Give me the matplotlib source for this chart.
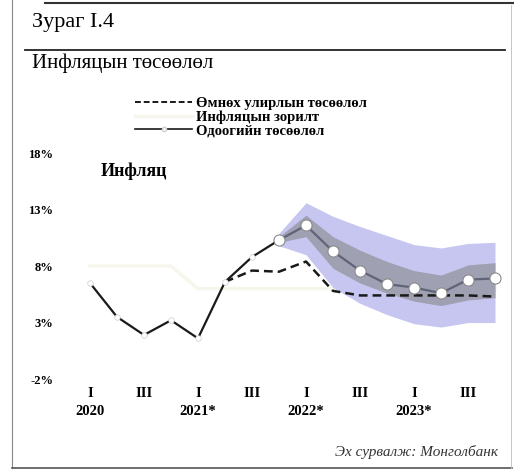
import matplotlib
matplotlib.use('Agg')
import matplotlib.pyplot as plt
from matplotlib.lines import Line2D

plt.rcParams['font.family'] = ['Liberation Serif', 'DejaVu Serif']

# quarterly inflation, 2020 Q1 .. 2023 Q4 (%)
actual = [6.5, 3.5, 1.9, 3.2, 1.6, 6.6, 8.8, 10.3, 11.6, 9.3, 7.6, 6.4, 6.1, 5.6, 6.8, 6.9]
# previous quarter's projection, from 2021 Q2
prev_start = 5
prev_fc = [6.6, 7.6, 7.5, 8.4, 5.8, 5.4, 5.4, 5.4, 5.4, 5.4, 5.3]
# inflation target
target = [8, 8, 8, 8, 6, 6, 6, 6, 6, 6, 6, 6, 6, 6, 6, 6]
# projection ranges, from 2021 Q4
band_start = 7
outer_hi = [10.9, 13.6, 12.4, 11.5, 10.7, 9.9, 9.6, 10.0, 10.1]
inner_hi = [10.6, 12.5, 10.6, 9.4, 8.4, 7.6, 7.2, 8.1, 8.3]
inner_lo = [10.1, 10.6, 7.8, 6.5, 5.6, 4.9, 4.5, 5.0, 5.2]
outer_lo = [9.8, 9.0, 6.1, 4.7, 3.7, 2.9, 2.6, 3.0, 3.0]

tick_pos = [0, 2, 4, 6, 8, 10, 12, 14]
tick_labels = ['I\n2020', 'III', 'I\n2021*', 'III', 'I\n2022*', 'III', 'I\n2023*', 'III']
y_ticks = [-2, 3, 8, 13, 18]
y_labels = ['-2%', '3%', '8%', '13%', '18%']

W, H = 514, 473
fig = plt.figure(figsize=(W / 100, H / 100), dpi=100)
fig.patch.set_facecolor('white')

# axes placed in pixel terms
left, right, top, bottom = 70, 505, 150, 383
ax = fig.add_axes([left / W, 1 - bottom / H, (right - left) / W, (bottom - top) / H])
ax.set_xlim(-0.74, 15.37)
ax.set_ylim(-2.35, 18.27)

x = list(range(len(actual)))
xb = x[band_start:]
ax.fill_between(xb, outer_lo, outer_hi, color='#c6c6f0', lw=0, zorder=1)
ax.fill_between(xb, inner_lo, inner_hi, color='#9fa0b1', lw=0, zorder=2)

ax.plot(x, target, color='#f7f6ec', lw=2.5, zorder=0.5)

xp = x[prev_start:prev_start + len(prev_fc)]
ax.plot(xp, prev_fc, color='#1a1a1a', lw=1.8, ls=(0, (3.5, 2)), zorder=3)

ax.plot(x[:band_start + 1], actual[:band_start + 1], color='#1a1a1a', lw=1.6, zorder=4)
ax.plot(x[band_start:], actual[band_start:], color='#5f6476', lw=1.6, zorder=4)
ax.plot(x[:band_start], actual[:band_start], ls='none', marker='o', ms=4,
        mfc='white', mec='#cccccc', mew=0.5, zorder=5)
ax.plot(x[band_start:], actual[band_start:], ls='none', marker='o', ms=8,
        mfc='white', mec='#8a8a8a', mew=0.8, zorder=5)

ax.set_xticks(tick_pos)
ax.set_xticklabels(tick_labels, fontsize=10.5, fontweight='bold', linespacing=1.5)
ax.set_yticks(y_ticks)
ax.set_yticklabels(y_labels, fontsize=9, fontweight='bold')
ax.tick_params(length=0)
ax.tick_params(axis='y', pad=12)
ax.tick_params(axis='x', pad=3)
for s in ax.spines.values():
    s.set_visible(False)

ax.text(0.4, 16.4, 'Инфляц', fontsize=13, fontweight='bold', va='center')

handles = [
    Line2D([0], [0], color='#1a1a1a', lw=1.4, ls=(0, (3, 1.5))),
    Line2D([0], [0], color='#f7f6ec', lw=2.5),
    Line2D([0], [0], color='#1a1a1a', lw=1.2, marker='o', ms=3, mfc='white', mec='#cccccc'),
]
labels = ['Өмнөх улирлын төсөөлөл', 'Инфляцын зорилт', 'Одоогийн төсөөлөл']
fig.legend(handles, labels, loc='upper left', bbox_to_anchor=(122 / W, 1 - 84 / H),
           frameon=False, handlelength=3.9, handletextpad=0.3, labelspacing=0.0,
           prop={'size': 10.5, 'weight': 'bold'})

# header and frame
fig.text(32 / W, 1 - 22 / H, 'Зураг I.4', fontsize=16, va='center')
fig.text(32 / W, 1 - 63 / H, 'Инфляцын төсөөлөл', fontsize=15, va='center')
fig.add_artist(Line2D([45 / W, 1], [1 - 3 / H, 1 - 3 / H], color='#333333', lw=1.5))
fig.add_artist(Line2D([25 / W, 505 / W], [1 - 50 / H, 1 - 50 / H], color='#222222', lw=1.3))
fig.add_artist(Line2D([12 / W, 12 / W], [1 - 468 / H, 1], color='#888888', lw=0.8))
fig.add_artist(Line2D([12 / W, 512 / W], [1 - 468 / H, 1 - 468 / H], color='#555555', lw=1.2))
fig.add_artist(Line2D([511 / W, 511 / W], [1 - 468 / H, 1 - 5 / H], color='#bbbbbb', lw=0.6))

fig.text(498 / W, 1 - 452 / H, 'Эх сурвалж: Монголбанк', fontsize=11, style='italic',
         ha='right', va='center', color='#333333')

fig.savefig('out.png', dpi=100)
